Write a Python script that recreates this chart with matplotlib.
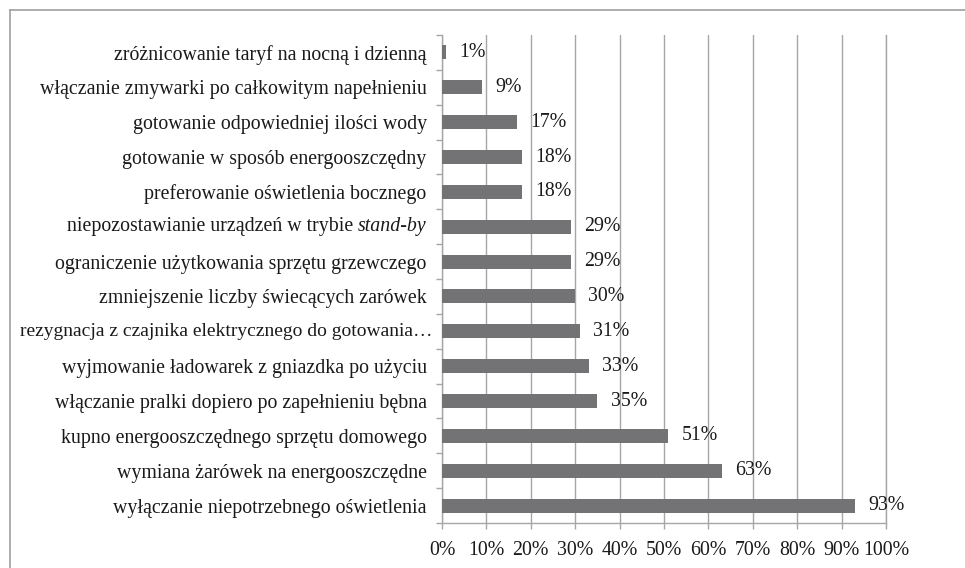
import matplotlib
matplotlib.use("Agg")
import matplotlib.pyplot as plt
from matplotlib.lines import Line2D
import numpy as np

plt.rcParams['font.family'] = ['Liberation Serif', 'DejaVu Serif']

categories = [
    "zróżnicowanie taryf na nocną i dzienną",
    "włączanie zmywarki po całkowitym napełnieniu",
    "gotowanie odpowiedniej ilości wody",
    "gotowanie w sposób energooszczędny",
    "preferowanie oświetlenia bocznego",
    "niepozostawianie urządzeń w trybie stand-by",
    "ograniczenie użytkowania sprzętu grzewczego",
    "zmniejszenie liczby świecących zarówek",
    "rezygnacja z czajnika elektrycznego do gotowania…",
    "wyjmowanie ładowarek z gniazdka po użyciu",
    "włączanie pralki dopiero po zapełnieniu bębna",
    "kupno energooszczędnego sprzętu domowego",
    "wymiana żarówek na energooszczędne",
    "wyłączanie niepotrzebnego oświetlenia",
]
values = [1, 9, 17, 18, 18, 29, 29, 30, 31, 33, 35, 51, 63, 93]
xticks = [0, 10, 20, 30, 40, 50, 60, 70, 80, 90, 100]
xticklabels = [f"{v}%" for v in xticks]

FS = 14.3
TXT = '#1a1a1a'
W, H = 965, 568
fig = plt.figure(figsize=(W / 100, H / 100), dpi=100)
ax = fig.add_axes([442 / W, 1 - 523 / H, (886 - 442) / W, (523 - 35) / H])

n = len(categories)
y = np.arange(n)
ax.barh(y, values, height=0.4, color='#737376', zorder=3)
ax.set_ylim(n - 0.5, -0.5)
ax.set_xlim(0, 100)

gridc = '#a6a6a6'
ax.set_xticks(xticks)
ax.set_xticklabels(xticklabels)
ax.xaxis.grid(True, color=gridc, linewidth=1.0, zorder=0)
ax.set_axisbelow(True)

special = ('stand-by', 'gotowania…')
ax.set_yticks(y)
normal_labels = [c if not any(s in c for s in special) else '' for c in categories]
ax.set_yticklabels(normal_labels)
ax.set_yticks(np.arange(-0.5, n, 1.0), minor=True)
ax.tick_params(axis='y', which='major', length=0, pad=11, labelsize=FS, labelcolor=TXT)
ax.tick_params(axis='y', which='minor', length=4, width=1, color=gridc, direction='out')
ax.tick_params(axis='x', which='major', length=4, width=1, color=gridc, direction='out',
               pad=9, labelsize=FS, labelcolor=TXT)

ax.spines['top'].set_visible(False)
for s in ['left', 'bottom', 'right']:
    ax.spines[s].set_color(gridc)
    ax.spines[s].set_linewidth(1.0)

trans = ax.get_yaxis_transform()
# italic part of the stand-by label
idx = [i for i, c in enumerate(categories) if 'stand-by' in c][0]
t_it = ax.annotate("stand-by", xy=(0, idx), xycoords=trans, xytext=(-11, 0),
                   textcoords='offset points', ha='right', va='center',
                   fontsize=FS, style='italic', color=TXT)
ax.annotate("niepozostawianie urządzeń w trybie ", xy=(0, 0), xycoords=t_it,
            ha='right', va='bottom', fontsize=FS, color=TXT)

# truncated label (extends nearly to the axis)
idx2 = [i for i, c in enumerate(categories) if 'gotowania…' in c][0]
ax.annotate(categories[idx2], xy=(0, idx2), xycoords=trans, xytext=(-7, 0),
            textcoords='offset points', ha='right', va='center',
            fontsize=14.0, color=TXT)

for yi, v in zip(y, values):
    ax.annotate(f"{v}%", xy=(v, yi), xytext=(9.5, 0), textcoords='offset points',
                ha='left', va='center', fontsize=FS, color=TXT, zorder=4)

# outer frame (left and top visible)
fig.add_artist(Line2D([9.5 / W, 9.5 / W], [0, 1 - 10 / H], color='#a0a0a0', lw=1.2,
                      transform=fig.transFigure))
fig.add_artist(Line2D([9.5 / W, 1], [1 - 10 / H, 1 - 10 / H], color='#a0a0a0', lw=1.2,
                      transform=fig.transFigure))

fig.savefig("out.png", dpi=100)
